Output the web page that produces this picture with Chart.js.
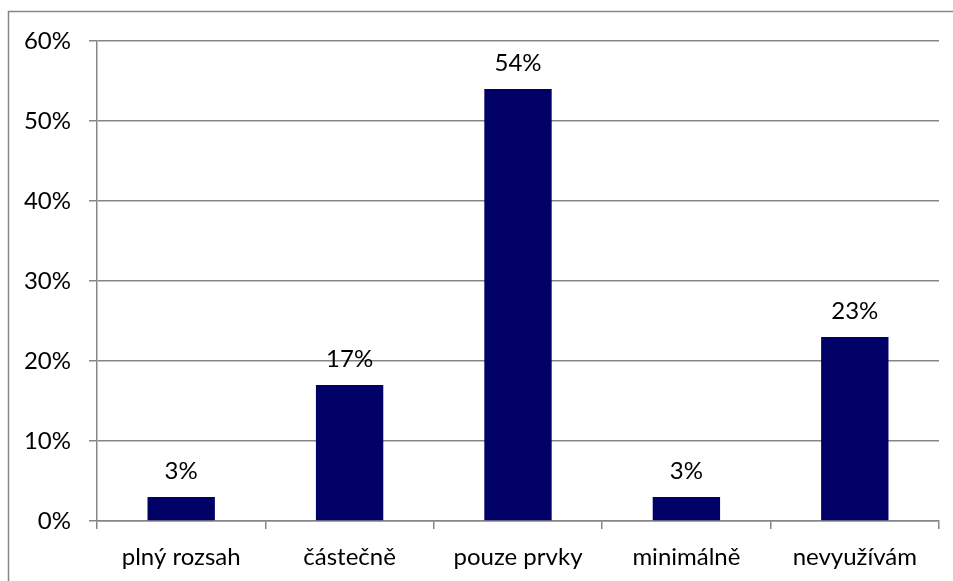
<!DOCTYPE html>
<html>
<head>
<meta charset="utf-8">
<script src="https://cdn.jsdelivr.net/npm/chart.js@4/dist/chart.umd.min.js"></script>
<style>
html,body{margin:0;padding:0;background:#fff;}
#wrap{width:953px;height:581px;position:relative;}
</style>
</head>
<body>
<div id="wrap"><canvas id="c" width="953" height="581"></canvas></div>
<script>
const categories = ["plný rozsah", "částečně", "pouze prvky", "minimálně", "nevyužívám"];
const values = [3, 17, 54, 3, 23];
const yTicks = [0, 10, 20, 30, 40, 50, 60];

const FONT = "Lato, 'Open Sans', sans-serif";
const GRID = "#868686";
const TEXT = "#000000";
const FSIZE = 24;

const frame = {
  id: 'frame',
  beforeDraw(chart) {
    const ctx = chart.ctx;
    ctx.save();
    ctx.fillStyle = '#fff';
    ctx.fillRect(0, 0, chart.width, chart.height);
    ctx.strokeStyle = GRID;
    ctx.lineWidth = 1.5;
    ctx.strokeRect(8.5, 11.5, 2000, 2000);
    ctx.restore();
  }
};

const labels = {
  id: 'labels',
  afterDatasetsDraw(chart) {
    const ctx = chart.ctx;
    const meta = chart.getDatasetMeta(0);
    ctx.save();
    ctx.font = FSIZE + "px " + FONT;
    ctx.fillStyle = TEXT;
    ctx.textAlign = 'center';
    ctx.textBaseline = 'middle';
    meta.data.forEach((bar, i) => {
      ctx.fillText(values[i] + '%', bar.x, bar.y - 26);
    });
    ctx.restore();
  }
};

new Chart(document.getElementById('c'), {
  type: 'bar',
  data: {
    labels: categories,
    datasets: [{
      data: values,
      backgroundColor: '#000066',
      borderWidth: 0,
      categoryPercentage: 1,
      barPercentage: 0.4
    }]
  },
  options: {
    responsive: false,
    animation: false,
    devicePixelRatio: 1,
    layout: { padding: { top: 41, right: 14, left: 0, bottom: 0 } },
    plugins: { legend: { display: false }, tooltip: { enabled: false } },
    scales: {
      x: {
        afterFit(s) { s.height = 60; },
        grid: { offset: true, drawOnChartArea: false, drawTicks: true, tickLength: 8, color: GRID, lineWidth: 1.5 },
        border: { display: true, color: GRID, width: 1.5 },
        ticks: { color: TEXT, font: { family: FONT, size: FSIZE }, padding: 14, maxRotation: 0 }
      },
      y: {
        min: 0, max: 60,
        afterFit(s) { s.width = 97; },
        afterBuildTicks(s) { s.ticks = yTicks.map(v => ({ value: v })); },
        grid: { color: GRID, lineWidth: 1.5, tickLength: 8 },
        border: { display: true, color: GRID, width: 1.5 },
        ticks: { color: TEXT, font: { family: FONT, size: FSIZE }, padding: 18, callback: v => v + '%' }
      }
    }
  },
  plugins: [frame, labels]
});
</script>
</body>
</html>
